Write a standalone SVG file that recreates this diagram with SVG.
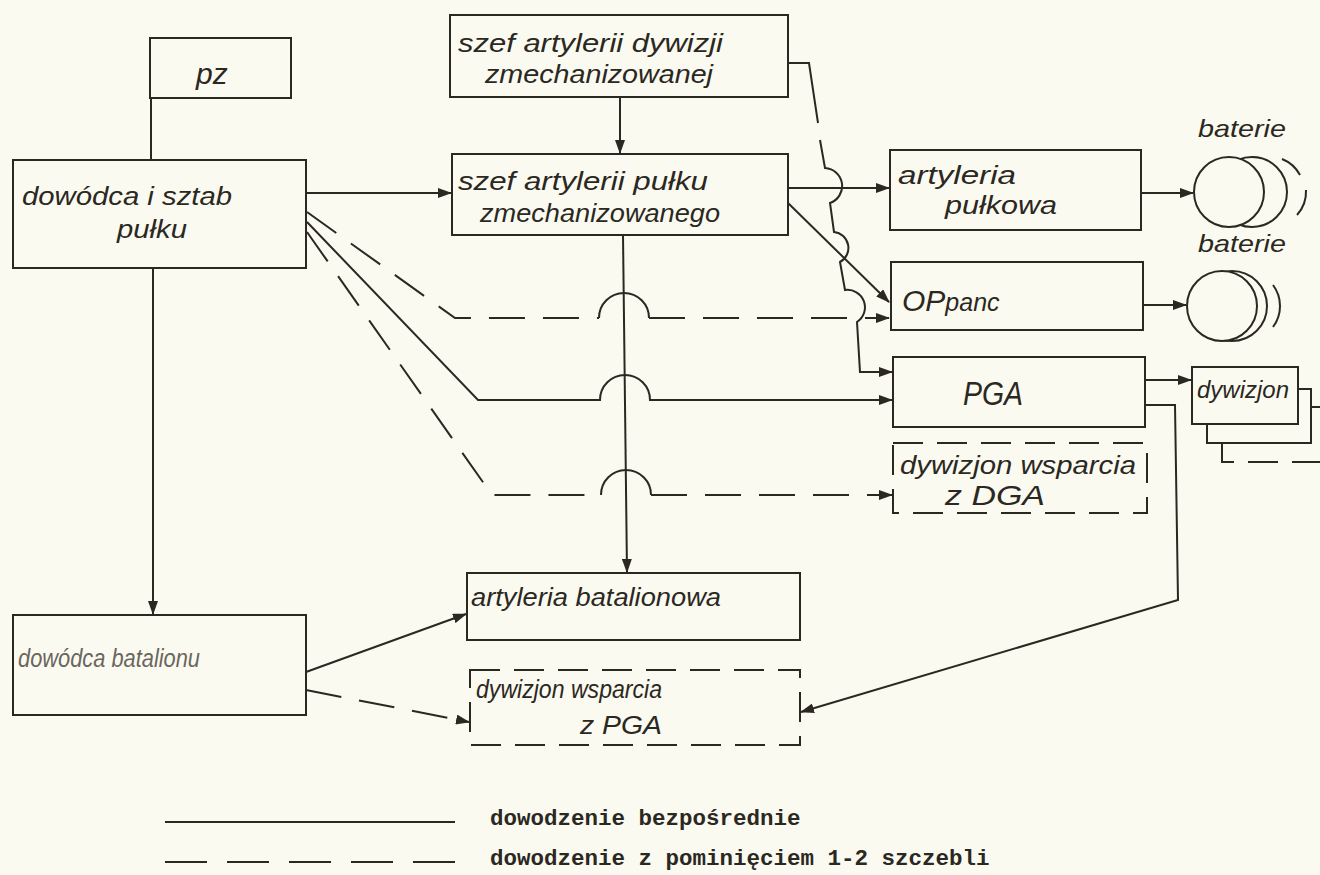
<svg xmlns="http://www.w3.org/2000/svg" width="1320" height="875" viewBox="0 0 1320 875">
<defs>
<style>
.bg{fill:#fbfaf1}
.box{fill:none;stroke:#2b2822;stroke-width:2}
.dbox{fill:none;stroke:#2b2822;stroke-width:2;stroke-dasharray:30 14}
.ln{fill:none;stroke:#2b2822;stroke-width:2}
.dl{fill:none;stroke:#2b2822;stroke-width:2;stroke-dasharray:36 18}
.hw{font-family:"Liberation Sans","DejaVu Sans",sans-serif;font-style:italic;fill:#2b2822;font-size:24px}
.lg{font-family:"Liberation Mono","DejaVu Sans Mono",monospace;font-weight:bold;fill:#2b2822;font-size:22.5px}
.circ{fill:#fbfaf1;stroke:#2b2822;stroke-width:2}
</style>
<marker id="ah" markerUnits="userSpaceOnUse" markerWidth="14" markerHeight="10" refX="13" refY="5" orient="auto">
<path d="M0,0 L14,5 L0,10 z" fill="#2b2822"/>
</marker>
</defs>
<rect class="bg" x="0" y="0" width="1320" height="875"/>

<g id="connectors">
<path class="ln" d="M151,98 V160"/>
<path class="ln" d="M153,268 V614" marker-end="url(#ah)"/>
<path class="ln" d="M306,193 H451" marker-end="url(#ah)"/>
<path class="ln" d="M620,97 V153" marker-end="url(#ah)"/>
<path class="ln" d="M623,235 L627,572" marker-end="url(#ah)"/>
<path class="ln" d="M788,188 H889" marker-end="url(#ah)"/>
<path class="ln" d="M788,203 L889,302" marker-end="url(#ah)"/>
<path class="ln" d="M788,63 H809 L818,123"/>
<path class="ln" d="M820,140 L825,168 A18,18 0 0 1 830,203 L834,232 A16,16 0 0 1 840,262 L845,290 A17.5,17.5 0 0 1 857,322 L860,372 H892" marker-end="url(#ah)"/>
<path class="dl" d="M307,212 L455,318 H599"/>
<path class="ln" d="M599,318 A25,25 0 0 1 649,318"/>
<path class="dl" d="M649,318 H889" marker-end="url(#ah)"/>
<path class="ln" d="M307,222 L478,400 H600 A25,25 0 0 1 650,400 H892" marker-end="url(#ah)"/>
<path class="dl" d="M307,232 L492,495 H601"/>
<path class="ln" d="M601,495 A25,25 0 0 1 651,495"/>
<path class="dl" d="M651,495 H892" marker-end="url(#ah)"/>
<path class="ln" d="M306,672 L466,614" marker-end="url(#ah)"/>
<path class="dl" d="M306,690 L469,722" marker-end="url(#ah)"/>
<path class="ln" d="M1145,380 H1191" marker-end="url(#ah)"/>
<path class="ln" d="M1145,405 H1175 L1178,600 L801,712" marker-end="url(#ah)"/>
<path class="ln" d="M1141,193 H1193" marker-end="url(#ah)"/>
<path class="ln" d="M1143,305 H1186" marker-end="url(#ah)"/>
</g>

<g id="pz">
<rect class="box" x="150" y="38" width="141" height="60"/>
<text class="hw" x="196" y="84" style="font-size:30px">pz</text>
</g>

<g id="dowodca-sztab">
<rect class="box" x="13" y="160" width="293" height="108"/>
<text class="hw" x="22" y="205" style="font-size:26px" textLength="210" lengthAdjust="spacingAndGlyphs">dowódca i sztab</text>
<text class="hw" x="117" y="238" style="font-size:26px" textLength="70" lengthAdjust="spacingAndGlyphs">pułku</text>
</g>

<g id="szef-dywizji">
<rect class="box" x="450" y="15" width="338" height="82"/>
<text class="hw" x="458" y="52" style="font-size:26px" textLength="265" lengthAdjust="spacingAndGlyphs">szef artylerii dywizji</text>
<text class="hw" x="485" y="83" style="font-size:26px" textLength="228" lengthAdjust="spacingAndGlyphs">zmechanizowanej</text>
</g>

<g id="szef-pulku">
<rect class="box" x="452" y="154" width="336" height="81"/>
<text class="hw" x="458" y="190" style="font-size:26px" textLength="250" lengthAdjust="spacingAndGlyphs">szef artylerii pułku</text>
<text class="hw" x="480" y="222" style="font-size:26px" textLength="240" lengthAdjust="spacingAndGlyphs">zmechanizowanego</text>
</g>

<g id="artyleria-pulkowa">
<rect class="box" x="890" y="150" width="251" height="80"/>
<text class="hw" x="898" y="184" style="font-size:26px" textLength="118" lengthAdjust="spacingAndGlyphs">artyleria</text>
<text class="hw" x="945" y="214" style="font-size:26px" textLength="112" lengthAdjust="spacingAndGlyphs">pułkowa</text>
</g>

<g id="oppanc">
<rect class="box" x="891" y="262" width="252" height="68"/>
<text class="hw" x="902" y="311" style="font-size:30px">OP<tspan style="font-size:25px">panc</tspan></text>
</g>

<g id="pga">
<rect class="box" x="893" y="357" width="252" height="70"/>
<text class="hw" x="963" y="405" style="font-size:34px" textLength="60" lengthAdjust="spacingAndGlyphs">PGA</text>
</g>

<g id="dywizjon-dga">
<rect class="dbox" x="893" y="443" width="254" height="70"/>
<text class="hw" x="900" y="474" style="font-size:26px" textLength="236" lengthAdjust="spacingAndGlyphs">dywizjon wsparcia</text>
<text class="hw" x="945" y="505" style="font-size:28px" textLength="100" lengthAdjust="spacingAndGlyphs">z DGA</text>
</g>

<g id="artyleria-batalionowa">
<rect class="box" x="467" y="573" width="333" height="67"/>
<text class="hw" x="471" y="606" style="font-size:26px" textLength="250" lengthAdjust="spacingAndGlyphs">artyleria batalionowa</text>
</g>

<g id="dowodca-batalionu">
<rect class="box" x="13" y="615" width="293" height="100"/>
<text class="hw" x="18" y="667" style="font-size:26px;fill:#6a665e" textLength="182" lengthAdjust="spacingAndGlyphs">dowódca batalionu</text>
</g>

<g id="dywizjon-pga">
<rect class="dbox" x="470" y="670" width="330" height="75"/>
<text class="hw" x="476" y="698" style="font-size:26px" textLength="186" lengthAdjust="spacingAndGlyphs">dywizjon wsparcia</text>
<text class="hw" x="580" y="734" style="font-size:26px" textLength="82" lengthAdjust="spacingAndGlyphs">z  PGA</text>
</g>

<g id="dywizjon">
<path class="ln" d="M1311,407 H1320"/>
<path class="dbox" d="M1222,444 V462 H1320"/>
<path class="ln" d="M1297,389 H1311 V443 H1207 V424"/>
<rect class="box" x="1192" y="367" width="106" height="57"/>
<text class="hw" x="1197" y="398" style="font-size:24px" textLength="92" lengthAdjust="spacingAndGlyphs">dywizjon</text>
</g>

<g id="baterie-1">
<text class="hw" x="1198" y="137" style="font-size:24px" textLength="88" lengthAdjust="spacingAndGlyphs">baterie</text>
<path class="ln" d="M1282,159 A35,35 0 0 1 1300,175 M1306,190 A35,35 0 0 1 1297,215"/>
<circle class="circ" cx="1252" cy="192" r="35"/>
<circle class="circ" cx="1229" cy="192" r="35"/>
</g>

<g id="baterie-2">
<text class="hw" x="1198" y="252" style="font-size:24px" textLength="88" lengthAdjust="spacingAndGlyphs">baterie</text>
<path class="ln" d="M1273,285 A35,35 0 0 1 1273,327"/>
<circle class="circ" cx="1232" cy="306" r="35"/>
<circle class="circ" cx="1222" cy="306" r="35"/>
</g>

<g id="legend">
<path class="ln" d="M165,822 H455"/>
<text class="lg" x="490" y="825">dowodzenie bezpośrednie</text>
<path class="ln" d="M165,862 H455" style="stroke-dasharray:42 20"/>
<text class="lg" x="490" y="865">dowodzenie z pominięciem 1-2 szczebli</text>
</g>
</svg>
